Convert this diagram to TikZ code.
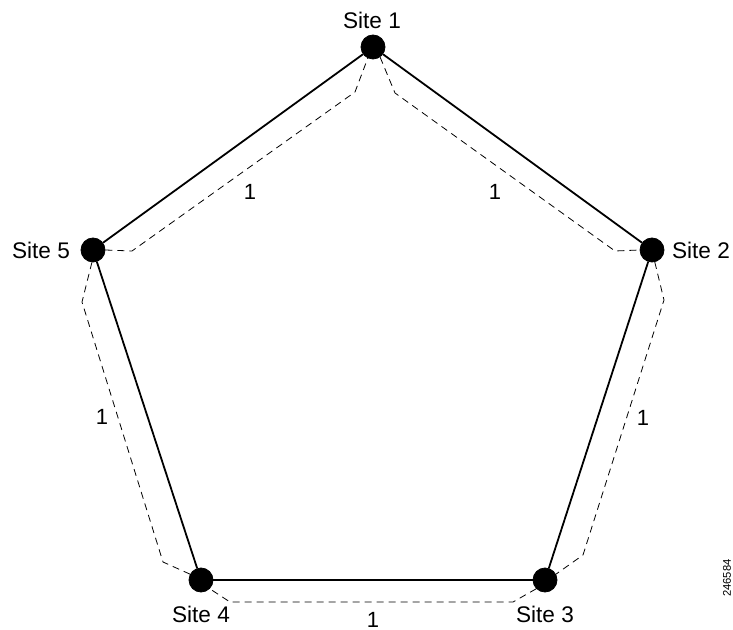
\documentclass[tikz,border=0pt]{standalone}
\usepackage{fontspec}
\setmainfont{Liberation Sans}
\usetikzlibrary{positioning}
\tikzset{
  site/.style={circle, fill=black, draw=black, minimum size=12pt, inner sep=0pt},
  sitename/.style={font=\fontsize{11.3}{13}\selectfont, inner sep=0pt},
  cost/.style={font=\fontsize{11}{13}\selectfont, inner sep=0pt},
  link/.style={line width=0.9pt},
  path/.style={dashed, dash pattern=on 3.5pt off 2.5pt, line width=0.4pt},
}

\begin{document}
\begin{tikzpicture}[x=0.5pt, y=-0.5pt]
  \useasboundingbox (0,0) rectangle (733,630);
  % Sites
  \node[site] (s1) at (373,47) {};
  \node[site] (s2) at (652,250) {};
  \node[site] (s3) at (545,580) {};
  \node[site] (s4) at (201,580) {};
  \node[site] (s5) at (93,250) {};

  % Site names
  \node[sitename] (n1) at (372,20) {Site 1};
  \node[sitename] (n2) at (701,250) {Site 2};
  \node[sitename] (n3) at (545,614) {Site 3};
  \node[sitename] (n4) at (201,614) {Site 4};
  \node[sitename] (n5) at (41,250) {Site 5};

  % Links
  \draw[link] (s1) -- (s2);
  \draw[link] (s2) -- (s3);
  \draw[link] (s3) -- (s4);
  \draw[link] (s4) -- (s5);
  \draw[link] (s5) -- (s1);

  % Paths
  \draw[path] (s5.0) -- (132,251) -- (355,92) -- (s1.-115);
  \draw[path] (s1.-55) -- (395,93) -- (615,251) -- (s2.180);
  \draw[path] (s2.-77) -- (664,300) -- (583,555) -- (s3.28);
  \draw[path] (s3.-135) -- (513,602) -- (230,602) -- (s4.-45);
  \draw[path] (s4.152) -- (163,562) -- (82,302) -- (s5.-95);

  % Costs
  \node[cost] (c51) at (250,192) {1};
  \node[cost] (c12) at (495,192) {1};
  \node[cost] (c23) at (643,418) {1};
  \node[cost] (c34) at (373,620) {1};
  \node[cost] (c45) at (102,417) {1};

  \node[font=\fontsize{5.6}{6}\selectfont, rotate=90, inner sep=0pt] (fig) at (727,578) {246584};
\end{tikzpicture}
\end{document}
